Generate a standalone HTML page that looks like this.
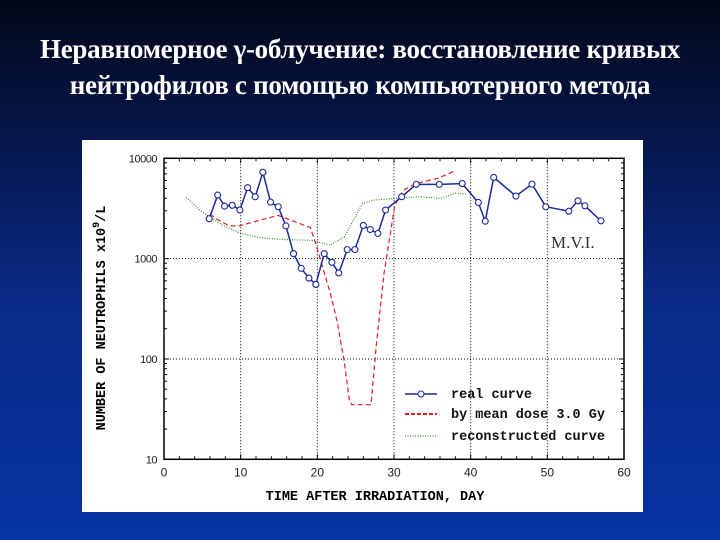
<!DOCTYPE html>
<html><head><meta charset="utf-8">
<style>
html,body{margin:0;padding:0;width:720px;height:540px;overflow:hidden}
body{background:linear-gradient(to bottom,#020818 0%,#06164a 25%,#0a2a86 55%,#0634a4 100%);font-family:"Liberation Serif",serif}
#title{position:absolute;left:0;top:31px;width:720px;text-align:center;color:#fff;font-weight:bold;font-size:27px;line-height:36px;letter-spacing:-0.3px}
#panel{position:absolute;left:82px;top:140px;width:561px;height:372px;background:#fff}
</style></head><body>
<div id="title">Неравномерное γ-облучение: восстановление кривых<br>нейтрофилов с помощью компьютерного метода</div>
<div id="panel"></div>
<svg id="chart" width="720" height="540" style="position:absolute;left:0;top:0"></svg>
<script>
const xTicks=[0,10,20,30,40,50,60];
const yTicks=[10,100,1000,10000];
const realDays=[5.9,7,7.9,8.9,9.9,10.9,11.9,12.9,13.9,14.9,15.9,16.9,17.9,18.9,19.8,20.9,21.9,22.8,23.9,24.9,26,26.9,27.9,28.9,31,32.9,35.9,38.9,41,41.9,43,45.9,48,49.8,52.8,54,54.9,57];
const realVals=[2500,4300,3340,3400,3050,5100,4140,7250,3660,3290,2120,1120,800,640,553,1120,920,720,1230,1230,2140,1950,1780,3050,4140,5500,5500,5600,3630,2360,6460,4200,5530,3290,2970,3770,3360,2380];
const doseDays=[6,6.8,8.4,9.6,14.9,19.1,19.8,21.7,22.6,23.5,24.2,24.5,27,27.7,28.7,30.1,31.2,32.9,35.7,37.8];
const doseVals=[2800,2500,2140,2100,2700,2040,1410,447,233,95,38,35,35,141,708,3390,4790,5620,6310,7410];
const reconDays=[2.9,4.9,7.7,9.8,12.4,15.6,19.3,21.7,23.5,25.9,27.3,30.1,33.3,36.1,38,39.4];
const reconVals=[4070,2950,2140,1810,1620,1550,1520,1360,1650,3550,3830,3980,4140,3980,4470,4400];

const svg=document.getElementById('chart');
const NS='http://www.w3.org/2000/svg';
const L=164,R=624,T=158.3,B=459.3;
function sx(d){return L+(d-0)/(60-0)*(R-L);}
function sy(v){return B-(Math.log10(v)-1)/3*(B-T);}
function mk(tag,attrs,parent){const e=document.createElementNS(NS,tag);for(const k in attrs)e.setAttribute(k,attrs[k]);(parent||svg).appendChild(e);return e;}

const grid=mk('g',{});


xTicks.slice(1,-1).forEach(t=>{mk('line',{x1:sx(t),x2:sx(t),y1:T,y2:B,stroke:'#000','stroke-width':1,'stroke-dasharray':'1,2'},grid);});
yTicks.slice(1,-1).forEach(t=>{mk('line',{x1:L,x2:R,y1:sy(t),y2:sy(t),stroke:'#000','stroke-width':1,'stroke-dasharray':'1,2'},grid);});
const ticks=mk('g',{});


for(let d=0;d<=60;d+=2){mk('line',{x1:sx(d),x2:sx(d),y1:B,y2:B-(d%10==0?5:3),stroke:'#000'},ticks);mk('line',{x1:sx(d),x2:sx(d),y1:T,y2:T+(d%10==0?5:3),stroke:'#000'},ticks);}
for(let e=1;e<4;e++){for(let m=1;m<10;m++){const v=m*Math.pow(10,e);const len=m==1?5:3;mk('line',{x1:L,x2:L+len,y1:sy(v),y2:sy(v),stroke:'#000'},ticks);mk('line',{x1:R,x2:R-len,y1:sy(v),y2:sy(v),stroke:'#000'},ticks);}}
const frame=mk('rect',{x:L,y:T,width:R-L,height:B-T,fill:'none',stroke:'#000','stroke-width':1.5});


xTicks.forEach(t=>{const tx=mk('text',{x:sx(t),y:B+17,'text-anchor':'middle','font-family':'Liberation Sans,sans-serif','font-size':12,fill:'#222'});tx.textContent=t;

});
yTicks.forEach(t=>{const tx=mk('text',{x:L-7,y:sy(t)+4,'text-anchor':'end','font-family':'Liberation Sans,sans-serif','font-size':11,fill:'#222','letter-spacing':'-0.5'});tx.textContent=t;

});
const xt=mk('text',{x:375,y:500,'text-anchor':'middle','font-family':'Liberation Mono,monospace','font-size':13.5,'font-weight':'bold'});
xt.textContent='TIME AFTER IRRADIATION, DAY';


const yt=mk('text',{x:0,y:0,'text-anchor':'middle','font-family':'Liberation Mono,monospace','font-size':13.5,'font-weight':'bold',transform:'translate(105,318) rotate(-90)'});
yt.innerHTML='NUMBER OF NEUTROPHILS x10<tspan dy="-6" font-size="10">9</tspan><tspan dy="6">/L</tspan>';


function pts(ds,vs){return ds.map((d,i)=>sx(d).toFixed(1)+','+sy(vs[i]).toFixed(1)).join(' ');}
const recon=mk('polyline',{points:pts(reconDays,reconVals),fill:'none',stroke:'#2a8a2a','stroke-width':1.2,'stroke-dasharray':'1,1.5'});


const dose=mk('polyline',{points:pts(doseDays,doseVals),fill:'none',stroke:'#e02020','stroke-width':1.2,'stroke-dasharray':'5,3'});


const real=mk('polyline',{points:pts(realDays,realVals),fill:'none',stroke:'#1a2a9a','stroke-width':1.5});


realDays.forEach((d,i)=>{const c=mk('circle',{cx:sx(d),cy:sy(realVals[i]),r:3,fill:'#fff',stroke:'#1a2a9a','stroke-width':1.1});

});
const mvi=mk('text',{x:551,y:248,'font-family':'Liberation Serif,serif','font-size':17,fill:'#333'});
mvi.textContent='M.V.I.';


const lg=mk('g',{});


const legendY=[394,414,436];
mk('line',{x1:405,x2:437,y1:legendY[0],y2:legendY[0],stroke:'#1a2a9a','stroke-width':1.5},lg);
mk('circle',{cx:421,cy:legendY[0],r:3,fill:'#fff',stroke:'#1a2a9a'},lg);
mk('line',{x1:405,x2:437,y1:legendY[1],y2:legendY[1],stroke:'#e02020','stroke-width':2,'stroke-dasharray':'4,2'},lg);
mk('line',{x1:405,x2:437,y1:legendY[2],y2:legendY[2],stroke:'#2a8a2a','stroke-width':1.2,'stroke-dasharray':'1,1.5'},lg);
['real curve','by mean dose 3.0 Gy','reconstructed curve'].forEach((s,i)=>{const t=mk('text',{x:451,y:legendY[i]+4,'font-family':'Liberation Mono,monospace','font-size':13.5,'font-weight':'bold',fill:'#111'},lg);t.textContent=s;

});
</script>
</body></html>
